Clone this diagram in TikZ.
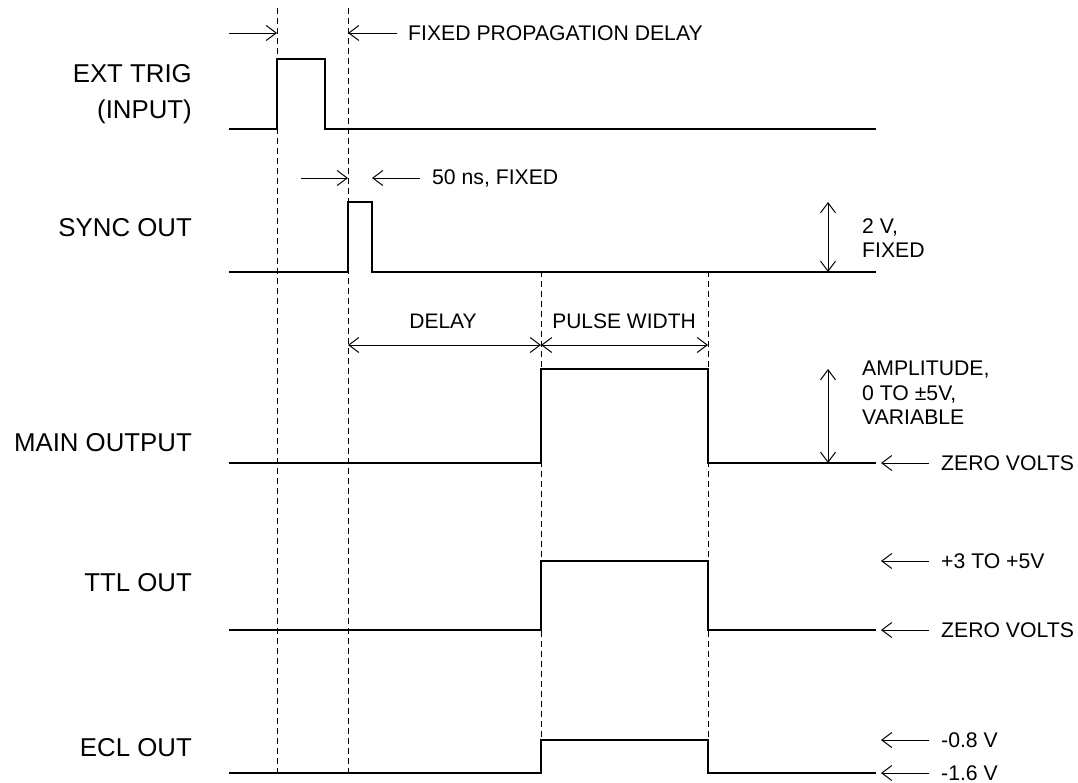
\documentclass[tikz,border=0pt]{standalone}
\usepackage{fontspec}
\setmainfont{Liberation Sans}
\usetikzlibrary{arrows.meta}
\begin{document}
\begin{tikzpicture}[x=1pt,y=-1pt,
 wave/.style={line width=1.2pt, black},
 guide/.style={line width=1pt, dash pattern=on 6pt off 4pt},
 dim/.style={line width=1pt, -{Straight Barb[length=10pt,width=15pt]}},
 dimboth/.style={line width=1pt, {Straight Barb[length=10pt,width=15pt]}-{Straight Barb[length=10pt,width=15pt]}},
 big/.style={anchor=east, inner sep=0pt, align=right, font=\fontsize{25.8}{36}\selectfont},
 note/.style={anchor=west, inner sep=0pt, font=\fontsize{21.2}{24.5}\selectfont, align=left},
 head/.style={inner sep=0pt, font=\fontsize{21}{24}\selectfont},
]
\useasboundingbox (0,0) rectangle (1078,782);

% guide lines
\coordinate (g1t) at (277,8);   \coordinate (g1b) at (277,776);
\coordinate (g2t) at (348,8);   \coordinate (g2b) at (348,776);
\coordinate (g3t) at (541,271); \coordinate (g3b) at (541,742);
\coordinate (g4t) at (708,271); \coordinate (g4b) at (708,742);
\draw[guide] (g1t) -- (g1b);
\draw[guide] (g2t) -- (g2b);
\draw[guide] (g3t) -- (g3b);
\draw[guide] (g4t) -- (g4b);

% waveforms
\draw[wave] (229,129) -- (277,129) -- (277,59) -- (325,59) -- (325,129) -- (876,129);
\draw[wave] (229,272) -- (348,272) -- (348,202) -- (372,202) -- (372,272) -- (876,272);
\draw[wave] (229,463) -- (541,463) -- (541,369) -- (708,369) -- (708,463) -- (876,463);
\draw[wave] (229,630) -- (541,630) -- (541,561) -- (708,561) -- (708,630) -- (876,630);
\draw[wave] (229,773) -- (541,773) -- (541,740) -- (708,740) -- (708,773) -- (876,773);

% left labels
\node[big] (ext) at (192,94) {EXT TRIG\\(INPUT)};
\node[big] (sync) at (192,228) {SYNC OUT};
\node[big] (main) at (192,443) {MAIN OUTPUT};
\node[big] (ttl) at (192,583) {TTL OUT};
\node[big] (ecl) at (192,748) {ECL OUT};

% propagation delay arrows
\coordinate (pa1) at (229,33); \coordinate (pa2) at (277,33);
\coordinate (pb1) at (397,33); \coordinate (pb2) at (348,33);
\draw[dim] (pa1) -- (pa2);
\draw[dim] (pb1) -- (pb2);
\node[note] (prop) at (408,33) {FIXED PROPAGATION DELAY};

% 50 ns arrows
\coordinate (sa1) at (301,178); \coordinate (sa2) at (348,178);
\coordinate (sb1) at (420,178); \coordinate (sb2) at (372,178);
\draw[dim] (sa1) -- (sa2);
\draw[dim] (sb1) -- (sb2);
\node[note] (fifty) at (432,178) {50 ns, FIXED};

% 2 V
\coordinate (va) at (828,202); \coordinate (vb) at (828,272);
\draw[dimboth] (va) -- (vb);
\node[note] (twov) at (862,238) {2 V,\\FIXED};

% delay / pulse width
\coordinate (d1) at (348,345); \coordinate (d2) at (541,345); \coordinate (d3) at (708,345);
\draw[dimboth] (d1) -- (d2);
\draw[dimboth] (d2) -- (d3);
\node[head] (delay) at (443,321) {DELAY};
\node[head] (pw) at (624,321) {PULSE WIDTH};

% amplitude
\coordinate (aa) at (828,369); \coordinate (ab) at (828,463);
\draw[dimboth] (aa) -- (ab);
\node[note] (amp) at (862,393) {AMPLITUDE,\\0 TO ±5V,\\VARIABLE};

% right level arrows
\foreach \y/\t/\n in {463/ZERO VOLTS/za, 561/+3 TO +5V/tb, 630/ZERO VOLTS/zc, 740/-0.8 V/ed, 773/-1.6 V/ee} {
  \coordinate (\n s) at (929,\y);
  \coordinate (\n e) at (881,\y);
  \draw[dim] (\n s) -- (\n e);
  \node[note] (\n t) at (941,\y) {\t};
}
\end{tikzpicture}
\end{document}
